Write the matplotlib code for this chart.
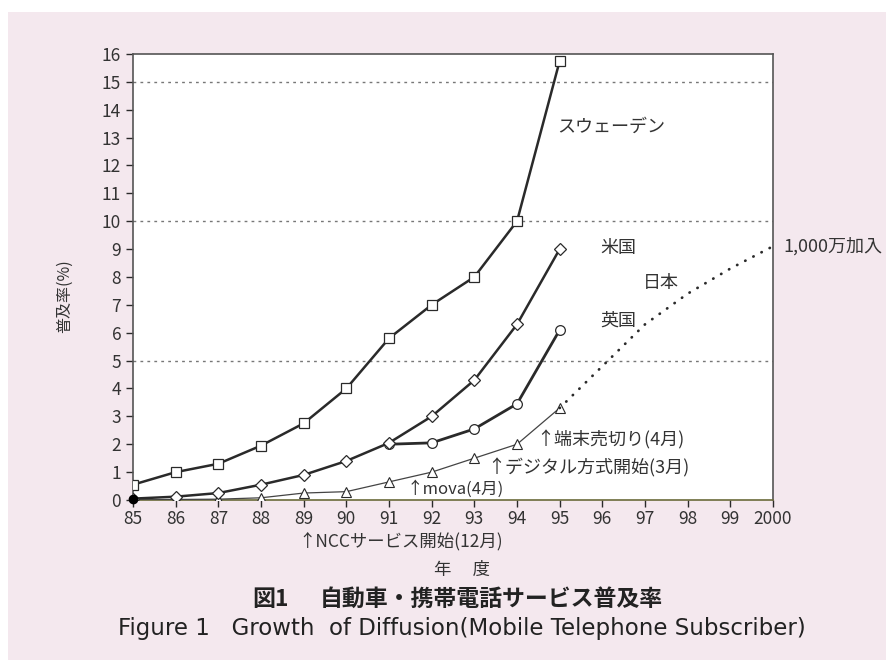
import matplotlib
matplotlib.use("Agg")
import matplotlib.pyplot as plt
from matplotlib.patches import Rectangle

plt.rcParams['font.family'] = ['Noto Sans CJK JP', 'DejaVu Sans']

years = [85, 86, 87, 88, 89, 90, 91, 92, 93, 94, 95]
sweden = [0.55, 1.0, 1.3, 1.95, 2.75, 4.0, 5.8, 7.0, 8.0, 10.0, 15.75]
usa = [0.05, 0.12, 0.25, 0.55, 0.9, 1.4, 2.05, 3.0, 4.3, 6.3, 9.0]
uk_years = [91, 92, 93, 94, 95]
uk = [2.0, 2.05, 2.55, 3.45, 6.1]
japan = [0.0, 0.02, 0.03, 0.08, 0.25, 0.3, 0.65, 1.0, 1.5, 2.0, 3.3]
proj_years = [95, 96, 97, 98, 99, 100]
japan_proj = [3.3, 4.8, 6.3, 7.4, 8.3, 9.1]
xtick_labels = ['85', '86', '87', '88', '89', '90', '91', '92', '93', '94',
                '95', '96', '97', '98', '99', '2000']

pink = '#f4e8ee'
ink = '#2a2a2a'
txt = '#333333'

fig = plt.figure(figsize=(8.87, 6.60), dpi=100)
fig.patch.set_facecolor('white')
fig.patches.append(Rectangle((8 / 887, 0), 1, 648 / 660, transform=fig.transFigure,
                             facecolor=pink, edgecolor='none', zorder=-10))

ax = fig.add_axes([0.150, 0.2424, 0.7215, 0.676])
ax.set_facecolor('white')

for yv in [5, 10, 15]:
    ax.axhline(yv, color='#777777', linestyle=(0, (2, 3)), linewidth=1.0, zorder=1)

ax.plot(years, sweden, color=ink, lw=1.8, marker='s', ms=7, mfc='white', mec=ink, mew=0.9, zorder=4)
ax.plot(years, usa, color=ink, lw=1.8, marker='D', ms=6, mfc='white', mec=ink, mew=0.9, zorder=4)
ax.plot(uk_years, uk, color=ink, lw=2.0, marker='o', ms=7, mfc='white', mec=ink, mew=0.9, zorder=3)
ax.plot(years, japan, color='#444444', lw=0.9, marker='^', ms=7, mfc='white', mec=ink, mew=0.8, zorder=3)
ax.plot(proj_years, japan_proj, color=ink, lw=2.0, linestyle=(0, (0.1, 3.2)),
        dash_capstyle='round', zorder=3)
ax.plot([85], [0.05], marker='o', ms=6, color='black', zorder=5, clip_on=False)

ax.set_xlim(85, 100)
ax.set_ylim(0, 16)
ax.set_xticks(range(85, 101))
ax.set_xticklabels(xtick_labels)
ax.set_yticks(range(0, 17))
ax.tick_params(axis='both', direction='out', length=5, width=1, color=ink,
               labelsize=12.5, labelcolor=txt)
ax.tick_params(axis='x', pad=2)
for s in ax.spines.values():
    s.set_color('#555555')
    s.set_linewidth(1.2)
ax.spines['bottom'].set_color('#6b6b3a')

ax.set_ylabel('普及率(%)', fontsize=11.5, color=txt)
ax.yaxis.set_label_coords(-0.094, 0.457)

tk = dict(fontsize=13, color=txt)
ax.text(94.95, 13.4, 'スウェーデン', va='center', **tk)
ax.text(95.95, 9.05, '米国', va='center', **tk)
ax.text(95.95, 6.45, '英国', va='center', **tk)
ax.text(96.95, 7.8, '日本', va='center', **tk)
ax.text(100.25, 9.1, '1,000万加入', va='center', clip_on=False, **tk)
ax.text(94.45, 2.15, '↑端末売切り(4月)', va='center', **tk)
ax.text(93.3, 1.15, '↑デジタル方式開始(3月)', va='center', **tk)
ax.text(91.4, 0.38, '↑mova(4月)', va='center', fontsize=12, color=txt)

fig.text(298 / 887, 1 - 541 / 660, '↑NCCサービス開始(12月)', va='center', ha='left',
         fontsize=12.5, color=txt)
fig.text(462 / 887, 1 - 570 / 660, '年　 度', va='center', ha='center', fontsize=12.5, color=txt)
fig.text(252 / 887, 1 - 599 / 660, '図1', va='center', ha='left',
         fontsize=16.5, fontweight='bold', color='#222222')
fig.text(320 / 887, 1 - 599 / 660, '自動車・携帯電話サービス普及率', va='center', ha='left',
         fontsize=16.5, fontweight='bold', color='#222222')
fig.text(118 / 887, 1 - 629 / 660, 'Figure 1   Growth  of Diffusion(Mobile Telephone Subscriber)',
         va='center', ha='left', fontsize=16.5, color='#222222', family='DejaVu Sans')

fig.savefig('out.png', dpi=100, facecolor=fig.get_facecolor())
